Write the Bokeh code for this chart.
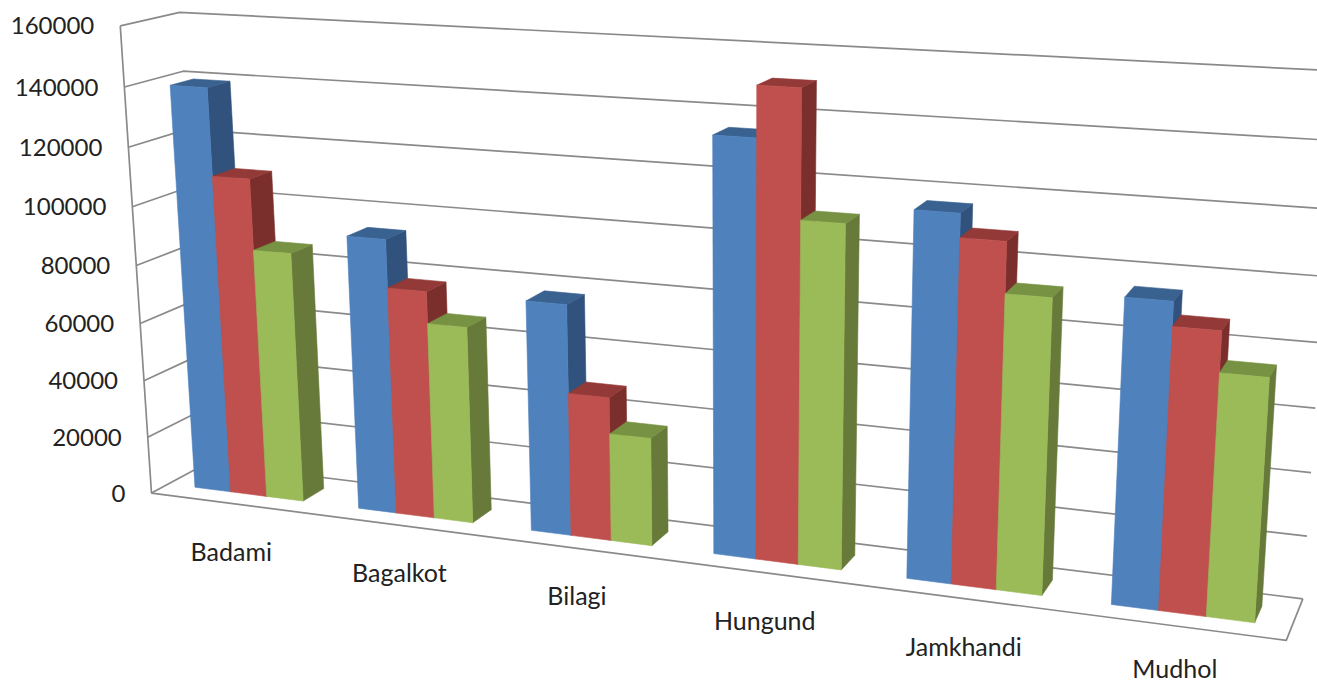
import numpy as np
from bokeh.core.properties import value
from bokeh.embed import file_html
from bokeh.models import ColumnDataSource
from bokeh.plotting import figure
from bokeh.resources import INLINE

# Chart content
categories = ["Badami", "Bagalkot", "Bilagi", "Hungund", "Jamkhandi", "Mudhol"]
series_blue = [139500, 93500, 77300, 134700, 116200, 95000]
series_red = [110000, 77300, 48000, 150700, 108800, 87500]
series_green = [86000, 66600, 36000, 110400, 93000, 75000]
axis_ticks = [0, 20000, 40000, 60000, 80000, 100000, 120000, 140000, 160000]

# Face colours per series: front, top, side
series_colors = [
    ("#4F81BD", "#3A6290", "#30527C"),
    ("#C0504D", "#933A38", "#7B2F2D"),
    ("#9BBB59", "#779243", "#677A3A"),
]

AXIS_MAX = 160000
GAP_WIDTH = 1.5
DEPTH_NEAR, DEPTH_FAR = 0.30, 0.70
PAGE_HEIGHT = 683
LABEL_HALF_HEIGHT = 16

# Camera calibration: (along categories, value, depth) -> page position of the box edges
front_left = [(119.5, 25), (123.5, 86.7), (128.3, 146.7), (132, 206.7), (136, 265),
              (140, 323), (144, 380), (147.3, 436.7), (150, 492.7)]
back_right = [(1337, 69.5), (1332, 140), (1328, 209), (1323, 276.5), (1319, 342),
              (1315, 408), (1310.7, 472), (1306.7, 535.7), (1302.3, 597.7)]
calibration = []
for k, (px, py) in enumerate(front_left):
    calibration.append(((0, 1 - k / 8, 0), (px, py)))
for k, (px, py) in enumerate(back_right):
    calibration.append(((1, 1 - k / 8, 1), (px, py)))
calibration += [
    ((0, 1, 1), (179, 12)),
    ((0, 7 / 8, 1), (182.7, 70.7)),
    ((1, 0, 0), (1285.7, 640)),
]


def solve_camera(pairs):
    rows = []
    for (a, b, c), (px, py) in pairs:
        sx, sy = px / 1000, py / 1000
        rows.append([a, b, c, 1, 0, 0, 0, 0, -sx * a, -sx * b, -sx * c, -sx])
        rows.append([0, 0, 0, 0, a, b, c, 1, -sy * a, -sy * b, -sy * c, -sy])
    _, _, vt = np.linalg.svd(np.array(rows, dtype=float))
    return vt[-1].reshape(3, 4)


camera = solve_camera(calibration)


def project(u, val, d):
    """Map category position (0-1), data value and depth (0-1) to page coordinates."""
    h = camera @ np.array([u, val / AXIS_MAX, d, 1.0])
    return 1000 * h[0] / h[2], 1000 * h[1] / h[2]


def face(*corners):
    pts = [project(*c) for c in corners]
    return [p[0] for p in pts], [p[1] for p in pts]


# Bar faces, painted left to right so nearer neighbours cover the side walls
xs, ys, fills = [], [], []
n_cat = len(categories)
bar_span = 1 / (3 + GAP_WIDTH) / n_cat
for i in range(n_cat):
    for j, values in enumerate((series_blue, series_red, series_green)):
        u0 = (i + (GAP_WIDTH / 2 + j) / (3 + GAP_WIDTH)) / n_cat
        u1 = u0 + bar_span
        top = values[i]
        d0, d1 = DEPTH_NEAR, DEPTH_FAR
        front_col, top_col, side_col = series_colors[j]
        faces = [
            (face((u1, 0, d0), (u1, 0, d1), (u1, top, d1), (u1, top, d0)), side_col),
            (face((u0, top, d0), (u1, top, d0), (u1, top, d1), (u0, top, d1)), top_col),
            (face((u0, 0, d0), (u1, 0, d0), (u1, top, d0), (u0, top, d0)), front_col),
        ]
        for (fx, fy), col in faces:
            xs.append(fx)
            ys.append(fy)
            fills.append(col)

# Box lines: back wall and side wall gridlines, axis edge and floor
line_x, line_y = [], []
for t in axis_ticks:
    lx, ly = face((0, t, 0), (0, t, 1), (1, t, 1))
    line_x.append(lx)
    line_y.append(ly)
lx, ly = face((0, AXIS_MAX, 0), (0, 0, 0), (1, 0, 0), (1, 0, 1))
line_x.append(lx)
line_y.append(ly)

p = figure(width=1317, height=PAGE_HEIGHT, x_range=(0, 1317), y_range=(PAGE_HEIGHT, 0),
           x_axis_type=None, y_axis_type=None, output_backend="svg",
           toolbar_location=None, min_border=0, outline_line_color=None)
p.grid.visible = False

p.multi_line(line_x, line_y, line_color="#8A8A8A", line_width=1.7)
p.patches(xs, ys, fill_color=fills, line_color=fills, line_width=0.6)

# Value labels follow the axis edge
tick_pos = [project(0, t, 0) for t in axis_ticks]
tick_src = ColumnDataSource(dict(x=[q[0] for q in tick_pos], y=[q[1] for q in tick_pos],
                                 t=[str(t) for t in axis_ticks]))
p.text("x", "y", text="t", source=tick_src, x_offset=-26, y_offset=0, text_align="right",
       text_baseline="middle", text_font=value("Lato"), text_font_size="24px",
       text_color="#222222")

# Category labels sit below the front floor edge, kept inside the page
cat_pos = [project((i + 0.5) / n_cat, 0, 0) for i in range(n_cat)]
cat_y = [min(q[1] + 47, PAGE_HEIGHT - LABEL_HALF_HEIGHT) for q in cat_pos]
cat_src = ColumnDataSource(dict(x=[q[0] for q in cat_pos], y=cat_y, t=categories))
p.text("x", "y", text="t", source=cat_src, x_offset=-1, text_align="center",
       text_baseline="middle", text_font=value("Lato"), text_font_size="25px",
       text_color="#222222")

open("out.html", "w").write(file_html(p, INLINE))
